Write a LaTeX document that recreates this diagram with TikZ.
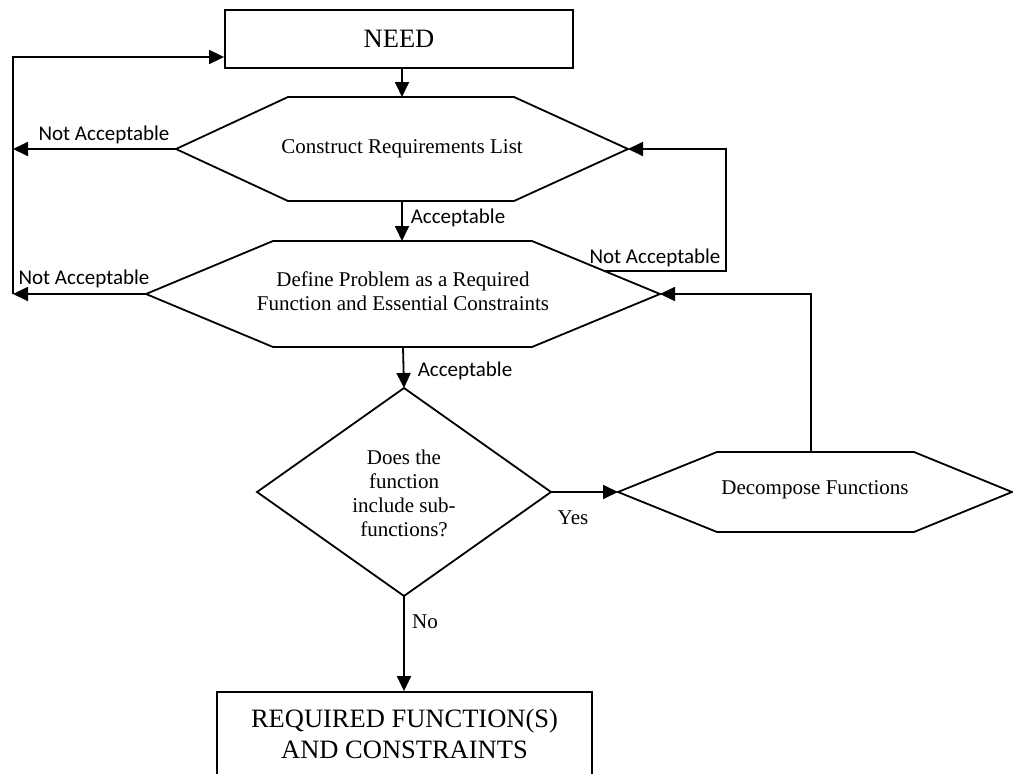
\documentclass[tikz,border=0pt]{standalone}
\usepackage{fontspec}
\setmainfont{Liberation Serif}
\newfontfamily\labelfont{Carlito}
\usetikzlibrary{arrows.meta}
\begin{document}
\begin{tikzpicture}[x=1pt,y=-1pt,
  outline/.style={draw=black,line width=1.8pt,line join=miter},
  arr/.style={draw=black,line width=1.8pt,-{Triangle[length=15pt,width=14pt]}},
  bigbox/.style={draw=black,line width=1.8pt,font=\fontsize{26.5}{31}\selectfont,align=center,inner sep=0pt},
  steptext/.style={font=\fontsize{21}{24}\selectfont,align=center,inner sep=0pt},
  sanslabel/.style={font=\labelfont\fontsize{21}{24}\selectfont,inner sep=0pt},
  seriflabel/.style={font=\fontsize{21}{24}\selectfont,inner sep=0pt}]
\useasboundingbox (0,0) rectangle (1013,774);

% start and end boxes
\node[bigbox,minimum width=348pt,minimum height=58pt] (need) at (399,39) {NEED};
\node[bigbox,minimum width=375pt,minimum height=84pt] (result) at (404.5,734) {REQUIRED FUNCTION(S)\\AND CONSTRAINTS};

% hexagon: construct requirements list
\draw[outline] (176,149) coordinate (h1L) -- (288,97) -- (514,97) -- (628,149) coordinate (h1R) -- (514,201) -- (288,201) -- cycle;
\coordinate (h1T) at (402,97);
\coordinate (h1B) at (402,201);
\node[steptext] (h1) at (402,149) {Construct Requirements List};

% hexagon: define problem
\draw[outline] (146,294) coordinate (h2L) -- (273,241) -- (532,241) -- (660,294) coordinate (h2R) -- (532,347) -- (273,347) -- cycle;
\coordinate (h2B) at (403,347);
\node[steptext] (h2) at (403,291) {Define Problem as a Required\\Function and Essential Constraints};

% decision diamond
\draw[outline] (404,388) coordinate (dT) -- (551,492) coordinate (dR) -- (404,596) coordinate (dB) -- (257,492) coordinate (dL) -- cycle;
\node[steptext] (dq) at (404,493) {Does the\\function\\include sub-\\functions?};

% hexagon: decompose functions
\draw[outline] (618,492) coordinate (h3L) -- (717,452) -- (914,452) -- (1012,492) coordinate (h3R) -- (914,532) -- (717,532) -- cycle;
\coordinate (h3T) at (811,452);
\node[steptext] (h3) at (815,490) {Decompose Functions};

% return path on the left
\coordinate (back1) at (13,149);
\coordinate (back2) at (13,294);
\coordinate (backtop) at (13,57);
% return path on the right
\coordinate (r2) at (604,271);
\coordinate (rc1) at (726,271);
\coordinate (rc2) at (726,149);

% main flow
\draw[arr] (h1T |- need.south) -- (h1T);
\draw[arr] (h1B) -- (h1B |- 0,241);
\draw[arr] (h2B) -- (dT);
\draw[arr] (dR) -- (h3L);
\draw[arr] (dB) -- (dB |- result.north);

% rejection loops
\draw[arr] (h1L) -- (back1);
\draw[arr] (h2L) -- (back2);
\draw[arr] (back2) -- (backtop) -- (backtop -| need.west);
\draw[arr] (r2) -- (rc1) -- (rc2) -- (h1R);
\draw[arr] (h3T) -- (h3T |- h2R) -- (h2R);

% connector labels
\node[sanslabel] (na1) at (104,135) {Not Acceptable};
\node[sanslabel] (na2) at (84,279) {Not Acceptable};
\node[sanslabel] (na3) at (655,258) {Not Acceptable};
\node[sanslabel] (ac1) at (458,218) {Acceptable};
\node[sanslabel] (ac2) at (465,371) {Acceptable};
\node[seriflabel] (yes) at (573,518) {Yes};
\node[seriflabel] (no) at (425,622) {No};
\end{tikzpicture}
\end{document}
